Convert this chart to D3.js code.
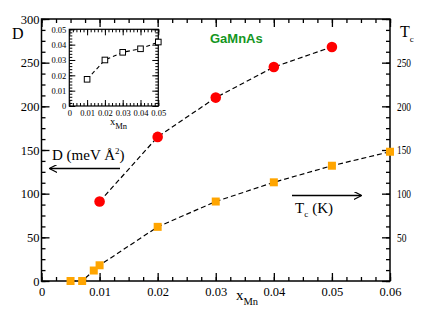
<!DOCTYPE html>
<html><head><meta charset="utf-8">
<script src="https://cdn.jsdelivr.net/npm/d3@7"></script>
<style>
body{margin:0;background:#fff;}
svg{display:block;}
</style></head>
<body>
<script>
// Data
const dX = [0.01, 0.02, 0.03, 0.04, 0.05];
const dValues = [91, 165, 210, 245, 268];
const tcX = [0.005, 0.007, 0.009, 0.01, 0.02, 0.03, 0.04, 0.05, 0.06];
const tcValues = [0, 0, 12, 18, 62, 91, 113, 132, 148];
const insetX = [0.01, 0.02, 0.03, 0.04, 0.05];
const insetValues = [0.0174, 0.030, 0.035, 0.0373, 0.0417];
const xTicks = [0, 0.01, 0.02, 0.03, 0.04, 0.05, 0.06];
const yTicks = [0, 50, 100, 150, 200, 250, 300];
const yRightLabels = [50, 100, 150, 200, 250];
const insetXTicks = [0, 0.01, 0.02, 0.03, 0.04, 0.05];
const insetYTicks = [0, 0.01, 0.02, 0.03, 0.04, 0.05];

const SERIF = "'Liberation Serif', 'Times New Roman', serif";
const W = 423, H = 327;
const svg = d3.select("body").append("svg").attr("width", W).attr("height", H);

const L = 41.5, R = 390, T = 19, B = 281;
const x = d3.scaleLinear().domain([0, 0.06]).range([L, R]);
const y = d3.scaleLinear().domain([0, 300]).range([B, T]);

function styleAxis(g) {
  g.select(".domain").remove();
  g.selectAll(".tick line").attr("stroke", "#000").attr("stroke-width", 1.3);
  g.selectAll("text").style("font-family", SERIF).attr("fill", "#000");
}
const fmtX = d => d === 0 ? "0" : d3.format(".2f")(d);
const minorX = d3.range(0, 0.06 + 1e-9, 0.0025);
const minorY = d3.range(0, 300 + 1e-9, 12.5);

// minor ticks
svg.append("g").attr("transform", `translate(0,${B})`)
  .call(d3.axisBottom(x).tickValues(minorX).tickSize(-4).tickFormat("")).call(styleAxis);
svg.append("g").attr("transform", `translate(0,${T})`)
  .call(d3.axisTop(x).tickValues(minorX).tickSize(-4).tickFormat("")).call(styleAxis);
svg.append("g").attr("transform", `translate(${L},0)`)
  .call(d3.axisLeft(y).tickValues(minorY).tickSize(-4).tickFormat("")).call(styleAxis);
svg.append("g").attr("transform", `translate(${R},0)`)
  .call(d3.axisRight(y).tickValues(minorY).tickSize(-4).tickFormat("")).call(styleAxis);

// major ticks
const gxb = svg.append("g").attr("transform", `translate(0,${B})`)
  .call(d3.axisBottom(x).tickValues(xTicks).tickSize(-8).tickPadding(4).tickFormat(fmtX)).call(styleAxis);
gxb.selectAll("text").attr("font-size", 12.5).attr("dy", "0.85em");
svg.append("g").attr("transform", `translate(0,${T})`)
  .call(d3.axisTop(x).tickValues(xTicks).tickSize(-8).tickFormat("")).call(styleAxis);
const gyl = svg.append("g").attr("transform", `translate(${L},0)`)
  .call(d3.axisLeft(y).tickValues(yTicks).tickSize(-8).tickPadding(2).tickFormat(d3.format("d"))).call(styleAxis);
gyl.selectAll("text").attr("font-size", 12.5).attr("x", -2);
const gyr = svg.append("g").attr("transform", `translate(${R},0)`)
  .call(d3.axisRight(y).tickValues(yTicks).tickSize(-8).tickFormat(d => yRightLabels.includes(d) ? d3.format("d")(d) : "")).call(styleAxis);
gyr.selectAll("text").attr("font-size", 11.5).attr("x", 7)
  .each(function(d){ if (yRightLabels.includes(d)) d3.select(this).attr("textLength", d >= 100 ? 14 : 9.5).attr("lengthAdjust", "spacingAndGlyphs"); });

// frame
svg.append("rect").attr("x", L).attr("y", T).attr("width", R - L).attr("height", B - T)
  .attr("fill", "none").attr("stroke", "#000").attr("stroke-width", 1.5);

// D series
const lineD = d3.line().x((d, i) => x(dX[i])).y(d => y(d));
svg.append("path").datum(dValues).attr("d", lineD)
  .attr("fill", "none").attr("stroke", "#000").attr("stroke-width", 1.2).attr("stroke-dasharray", "5,3");
svg.selectAll(".dpt").data(dValues).enter().append("circle")
  .attr("cx", (d, i) => x(dX[i])).attr("cy", d => y(d)).attr("r", 5.3).attr("fill", "#ff0000");

// Tc series
const lineT = d3.line().x((d, i) => x(tcX[i])).y(d => y(d));
svg.append("path").datum(tcValues).attr("d", lineT)
  .attr("fill", "none").attr("stroke", "#000").attr("stroke-width", 1.2).attr("stroke-dasharray", "5,3");
svg.selectAll(".tpt").data(tcValues).enter().append("rect")
  .attr("x", (d, i) => x(tcX[i]) - 4).attr("y", d => y(d) - 4).attr("width", 8).attr("height", 8).attr("fill", "#ffa500");

function serifText(xp, yp, size) {
  return svg.append("text").attr("x", xp).attr("y", yp).attr("font-size", size)
    .style("font-family", SERIF).attr("fill", "#000");
}
// Labels
serifText(12, 39, 16).text("D");
const tcLab = serifText(400, 37, 16);
tcLab.append("tspan").text("T");
tcLab.append("tspan").attr("font-size", 9).attr("dy", 5).text("c");

svg.append("text").attr("x", 210).attr("y", 43).attr("font-size", 13).attr("font-weight", "bold")
  .style("font-family", "'Liberation Sans', Arial, sans-serif").attr("fill", "#14961e").text("GaMnAs");

// D (meV Å^2) label
const dl = serifText(52, 160, 15);
dl.append("tspan").text("D (meV Å");
dl.append("tspan").attr("font-size", 9).attr("dy", -6).text("2");
dl.append("tspan").attr("dy", 6).text(")");

// arrows
svg.append("defs").append("marker").attr("id", "ah").attr("viewBox", "0 0 10 10")
  .attr("refX", 9).attr("refY", 5).attr("markerWidth", 8).attr("markerHeight", 8).attr("orient", "auto")
  .attr("markerUnits", "userSpaceOnUse")
  .append("path").attr("d", "M0,0 L10,5 L0,10").attr("fill", "none").attr("stroke", "#000").attr("stroke-width", 1.5);
svg.append("line").attr("x1", 120).attr("y1", 168.5).attr("x2", 50).attr("y2", 168.5)
  .attr("stroke", "#000").attr("stroke-width", 1.6).attr("marker-end", "url(#ah)");
svg.append("line").attr("x1", 292).attr("y1", 195.5).attr("x2", 361).attr("y2", 195.5)
  .attr("stroke", "#000").attr("stroke-width", 1.6).attr("marker-end", "url(#ah)");

const tk = serifText(295, 213, 15);
tk.append("tspan").text("T");
tk.append("tspan").attr("font-size", 9).attr("dy", 4).text("c");
tk.append("tspan").attr("dy", -4).attr("dx", 4).text("(K)");

// x axis label
const xl = serifText(236, 300, 15);
xl.append("tspan").text("x");
xl.append("tspan").attr("font-size", 10.5).attr("dy", 5).text("Mn");

// Inset
const iL = 69.3, iR = 158.3, iT = 29.3, iB = 106;
const ix = d3.scaleLinear().domain([0, 0.05]).range([iL, iR]);
const iy = d3.scaleLinear().domain([0, 0.05]).range([iB, iT]);
const iMinor = d3.range(0, 0.05 + 1e-9, 0.002);
function styleInset(g) {
  g.select(".domain").remove();
  g.selectAll(".tick line").attr("stroke", "#000").attr("stroke-width", 1);
  g.selectAll("text").style("font-family", SERIF).attr("fill", "#000");
}
svg.append("rect").attr("x", iL).attr("y", iT).attr("width", iR - iL).attr("height", iB - iT).attr("fill", "#fff");
svg.append("g").attr("transform", `translate(0,${iB})`)
  .call(d3.axisBottom(ix).tickValues(iMinor).tickSize(-3).tickFormat("")).call(styleInset);
svg.append("g").attr("transform", `translate(0,${iT})`)
  .call(d3.axisTop(ix).tickValues(iMinor).tickSize(-3).tickFormat("")).call(styleInset);
svg.append("g").attr("transform", `translate(${iL},0)`)
  .call(d3.axisLeft(iy).tickValues(iMinor).tickSize(-3).tickFormat("")).call(styleInset);
svg.append("g").attr("transform", `translate(${iR},0)`)
  .call(d3.axisRight(iy).tickValues(iMinor).tickSize(-3).tickFormat("")).call(styleInset);
const ixb = svg.append("g").attr("transform", `translate(0,${iB})`)
  .call(d3.axisBottom(ix).tickValues(insetXTicks).tickSize(-6).tickPadding(3).tickFormat(fmtX)).call(styleInset);
ixb.selectAll("text").attr("font-size", 8.5).attr("dy", "0.8em");
svg.append("g").attr("transform", `translate(0,${iT})`)
  .call(d3.axisTop(ix).tickValues(insetXTicks).tickSize(-6).tickFormat("")).call(styleInset);
const iyl = svg.append("g").attr("transform", `translate(${iL},0)`)
  .call(d3.axisLeft(iy).tickValues(insetYTicks).tickSize(-6).tickPadding(3).tickFormat(fmtX)).call(styleInset);
iyl.selectAll("text").attr("font-size", 8.5).attr("x", -3);
svg.append("g").attr("transform", `translate(${iR},0)`)
  .call(d3.axisRight(iy).tickValues(insetYTicks).tickSize(-6).tickFormat("")).call(styleInset);
svg.append("rect").attr("x", iL).attr("y", iT).attr("width", iR - iL).attr("height", iB - iT)
  .attr("fill", "none").attr("stroke", "#000").attr("stroke-width", 1.2);

const lineI = d3.line().x((d, i) => ix(insetX[i])).y(d => iy(d));
svg.append("path").datum(insetValues).attr("d", lineI)
  .attr("fill", "none").attr("stroke", "#000").attr("stroke-width", 1.1).attr("stroke-dasharray", "4,3");
svg.selectAll(".ipt").data(insetValues).enter().append("rect")
  .attr("x", (d, i) => ix(insetX[i]) - 2.8).attr("y", d => iy(d) - 2.8).attr("width", 5.6).attr("height", 5.6)
  .attr("fill", "#fff").attr("stroke", "#000").attr("stroke-width", 1);

const ixl = serifText(110, 125, 10.5);
ixl.append("tspan").text("x");
ixl.append("tspan").attr("font-size", 8.5).attr("dy", 4).text("Mn");
</script>
</body></html>
